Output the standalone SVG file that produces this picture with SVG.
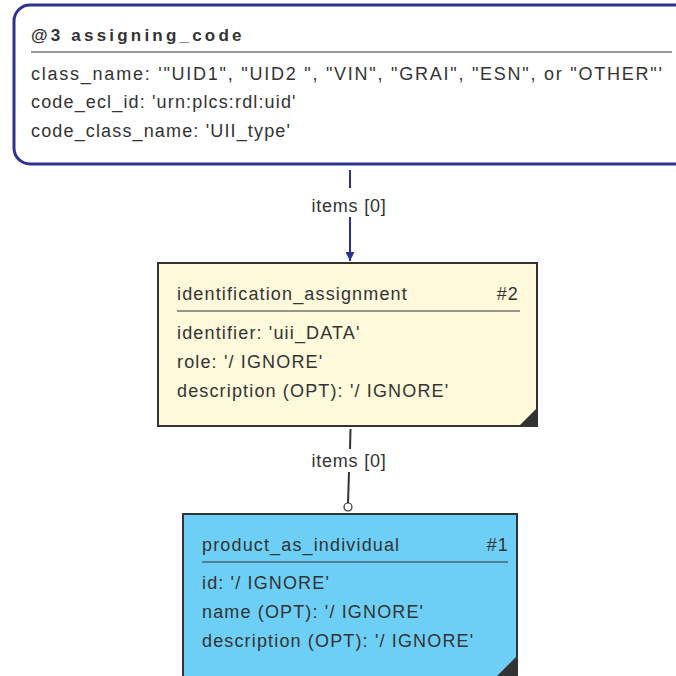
<svg xmlns="http://www.w3.org/2000/svg" width="676" height="676" viewBox="0 0 676 676">
<defs>
<style>
text{font-family:"Liberation Sans",Arial,sans-serif;font-size:18px;fill:#333;letter-spacing:1.15px}
.hd{font-weight:bold;font-size:17px;letter-spacing:3.2px}
.sep{stroke:#333;stroke-width:1}
.box{stroke:#333;stroke-width:2}
.lbl{font-size:18px;letter-spacing:0.8px}
</style>
<marker id="arr" viewBox="0 0 10 10" refX="10" refY="5" markerWidth="9" markerHeight="9" markerUnits="userSpaceOnUse" orient="auto"><path d="M0,0 L10,5 L0,10 Z" fill="#2e3192"/></marker>
</defs>
<g id="node3">
<rect x="14" y="5" width="700" height="159" rx="16" fill="#fff" stroke="#2e3192" stroke-width="3"/>
<text x="31" y="41" class="hd">@3 assigning_code</text>
<line x1="31" y1="52" x2="672" y2="52" class="sep"/>
<text x="31" y="80" textLength="632" lengthAdjust="spacing">class_name: '"UID1", "UID2 ", "VIN", "GRAI", "ESN", or "OTHER"'</text>
<text x="31" y="108">code_ecl_id: 'urn:plcs:rdl:uid'</text>
<text x="31" y="137">code_class_name: 'UII_type'</text>
</g>
<g id="node2">
<rect x="158" y="263" width="379" height="163" fill="#fffadc" class="box"/>
<path d="M537,408 L537,426 L519,426 Z" fill="#333"/>
<text x="177" y="300">identification_assignment</text>
<text x="519" y="300" text-anchor="end">#2</text>
<line x1="177" y1="311" x2="520" y2="311" class="sep"/>
<text x="177" y="339">identifier: 'uii_DATA'</text>
<text x="177" y="368">role: '/ IGNORE'</text>
<text x="177" y="397">description (OPT): '/ IGNORE'</text>
</g>
<g id="node1">
<rect x="183" y="514" width="334" height="180" fill="#6dcff6" class="box"/>
<path d="M517,656 L517,676 L497,676 Z" fill="#333"/>
<text x="202" y="551">product_as_individual</text>
<text x="509" y="551" text-anchor="end">#1</text>
<line x1="202" y1="562" x2="508" y2="562" class="sep"/>
<text x="202" y="589">id: '/ IGNORE'</text>
<text x="202" y="618">name (OPT): '/ IGNORE'</text>
<text x="202" y="647">description (OPT): '/ IGNORE'</text>
</g>
<g id="connectors">
<line x1="350" y1="170" x2="350" y2="188" stroke="#2e3192" stroke-width="2"/>
<line x1="350" y1="217" x2="350" y2="261" stroke="#2e3192" stroke-width="2" marker-end="url(#arr)"/>
<text x="349" y="212" text-anchor="middle" class="lbl">items [0]</text>
<line x1="350.5" y1="429" x2="350" y2="449" stroke="#333" stroke-width="2"/>
<line x1="349" y1="472" x2="348" y2="503" stroke="#333" stroke-width="2"/>
<circle cx="348" cy="507" r="4" fill="#fff" stroke="#333" stroke-width="1.2"/>
<text x="349" y="467" text-anchor="middle" class="lbl">items [0]</text>
</g>
</svg>
